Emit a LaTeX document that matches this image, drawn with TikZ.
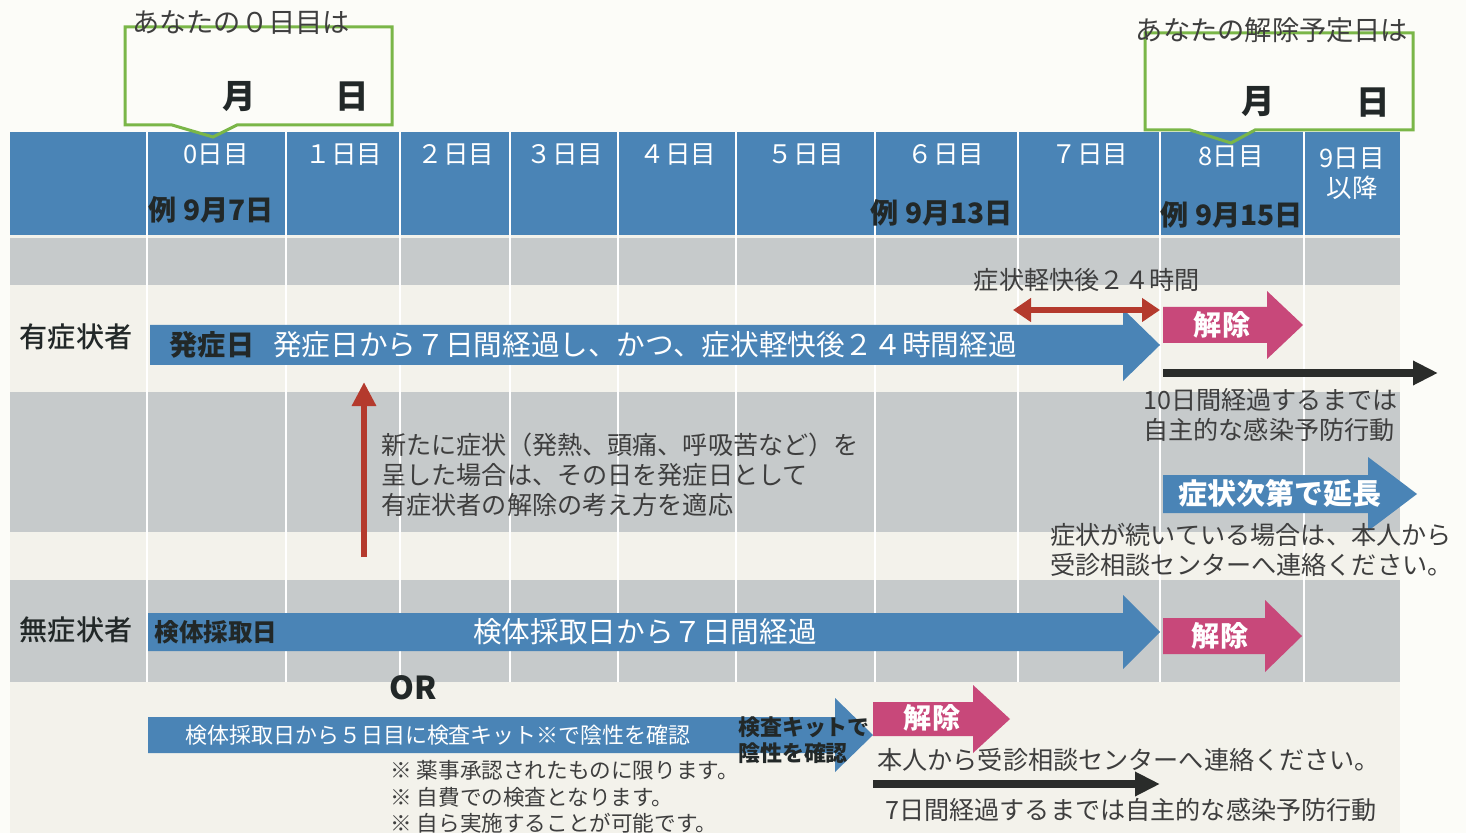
\documentclass[tikz,border=0pt]{standalone}
\usepackage{fontspec}
\setmainfont{Noto Sans CJK JP}
\newfontfamily\medfont{Noto Sans CJK JP Medium}
\usepackage{tikz}
\usetikzlibrary{arrows.meta}

\definecolor{page}{RGB}{252,252,248}
\definecolor{cream}{RGB}{243,242,235}
\definecolor{cellgray}{RGB}{198,202,203}
\definecolor{hblue}{RGB}{74,132,182}
\definecolor{hpink}{RGB}{200,72,122}
\definecolor{redarr}{RGB}{180,58,45}
\definecolor{blkarr}{RGB}{42,44,42}
\definecolor{cgreen}{RGB}{122,182,72}
\definecolor{txtdark}{RGB}{34,40,40}
\definecolor{txtgray}{RGB}{62,62,62}

% block arrow: colour, x start, x head, x tip, y centre, half body, half head
\newcommand{\barrow}[7]{%
  \fill[#1] (#2,{#5-#6}) -- (#3,{#5-#6}) -- (#3,{#5-#7}) -- (#4,#5)
    -- (#3,{#5+#7}) -- (#3,{#5+#6}) -- (#2,{#5+#6}) -- cycle;}

\begin{document}
\begin{tikzpicture}[x=0.2mm, y=-0.2mm]
        \tikzstyle{hdr}=[text=white, font=\fontsize{14.5}{17}\selectfont];
        \tikzstyle{ex}=[text=txtdark, font=\bfseries\fontsize{16}{19}\selectfont];
        \tikzstyle{callout}=[draw=cgreen, line width=0.6mm];
        \tikzstyle{ask}=[text=txtgray, font=\fontsize{15.5}{18}\selectfont];
        \tikzstyle{md}=[text=txtdark, font=\bfseries\fontsize{19}{22}\selectfont];
        \tikzstyle{rowlbl}=[text=txtdark, font=\medfont\fontsize{16}{19}\selectfont];
        \tikzstyle{inbar}=[text=white, font=\fontsize{16.3}{19}\selectfont];
        \tikzstyle{inbarb}=[text=txtdark, font=\bfseries\fontsize{16}{19}\selectfont];
        \tikzstyle{rel}=[text=white, font=\bfseries\fontsize{16}{19}\selectfont];
        \tikzstyle{note}=[text=txtgray, font=\fontsize{14.3}{17.1}\selectfont, align=left, anchor=west, inner sep=0pt];
        \tikzstyle{small}=[text=txtgray, font=\fontsize{12.3}{15}\selectfont, align=left, anchor=west, inner sep=0pt];
        \tikzstyle{gridline}=[draw=white, line width=0.4mm];
        \tikzstyle{redline}=[draw=redarr, line width=1.2mm];
        \tikzstyle{blackline}=[draw=blkarr, line width=1.5mm, -{Triangle[length=5mm,width=4.6mm]}];

        \useasboundingbox (0,0) rectangle (1466,833);
        \fill[page] (0,0) rectangle (1466,833);

        % table
        \fill[cream] (10,132) rectangle (1400,833);
        \fill[cellgray] (10,238) rectangle (1400,285);
        \fill[cellgray] (10,392) rectangle (1400,532);
        \fill[cellgray] (10,580) rectangle (1400,682);
        \fill[hblue] (10,132) rectangle (1400,235);
        \path[gridline]
        (147,132) -- (147,682) (286,132) -- (286,682)
        (400,132) -- (400,682) (510,132) -- (510,682)
        (618,132) -- (618,682) (736,132) -- (736,682)
        (875,132) -- (875,682) (1018,132) -- (1018,682)
        (1160,132) -- (1160,682) (1304,132) -- (1304,682);

        \node[hdr] (d0) at (216,155) {0日目};
        \node[hdr] (d1) at (344,155) {１日目};
        \node[hdr] (d2) at (456,155) {２日目};
        \node[hdr] (d3) at (565,155) {３日目};
        \node[hdr] (d4) at (678,155) {４日目};
        \node[hdr] (d5) at (806,155) {５日目};
        \node[hdr] (d6) at (946,155) {６日目};
        \node[hdr] (d7) at (1090,155) {７日目};
        \node[hdr] (d8) at (1231,157) {8日目};
        \node[hdr, align=center] (d9) at (1352,174) {9日目\\以降};

        \node[ex] (ex0) at (211,210) {例 9月7日};
        \node[ex] (ex6) at (942,213) {例 9月13日};
        \node[ex] (ex8) at (1232,215) {例 9月15日};

        % callouts
        \draw[callout] (125,27) -- (392,27) -- (392,125) -- (237,125) -- (213,137)
        -- (172,125) -- (125,125) -- cycle;
        \draw[callout] (1145,33) -- (1413,33) -- (1413,130) -- (1255,130) -- (1231,143)
        -- (1190,130) -- (1145,130) -- cycle;
        \node[ask] (ask0) at (241,23) {あなたの０日目は};
        \node[ask] (askend) at (1272,30) {あなたの解除予定日は};
        \node[md] (m0) at (239,97) {月};
        \node[md] (n0) at (352,97) {日};
        \node[md] (m8) at (1258,102) {月};
        \node[md] (n8) at (1373,103) {日};

        % with symptoms
        \node[rowlbl] (sym) at (76,337) {有症状者};
        \barrow{hblue}{150}{1123}{1160}{345}{20}{36}
        \node[inbarb] (onset) at (212,345) {発症日};
        \node[inbar] (onsettxt) at (645,345) {発症日から７日間経過し、かつ、症状軽快後２４時間経過};

        \coordinate (h24a) at (1013,310);
        \coordinate (h24b) at (1160,310);
        \draw[redline, {Triangle[length=3.6mm,width=4.6mm]}-{Triangle[length=3.6mm,width=4.6mm]}] (h24a) -- (h24b);
        \node[text=txtgray, font=\fontsize{14.3}{17}\selectfont] (h24) at (1087,280) {症状軽快後２４時間};

        \barrow{hpink}{1163}{1267}{1303}{325}{18}{34}
        \node[rel] (rel1) at (1222,325) {解除};

        \coordinate (ten0) at (1163,373);
        \coordinate (ten1) at (1438,373);
        \draw[blackline] (ten0) -- (ten1);
        \node[note] (tentxt) at (1143,415) {10日間経過するまでは\\自主的な感染予防行動};

        \coordinate (newsym) at (364,557);
        \coordinate (newsymtop) at (364,382);
        \draw[redline, -{Triangle[length=4.8mm,width=4.6mm]}] (newsym) -- (newsymtop);
        \node[note] (newtxt) at (381,475) {新たに症状（発熱、頭痛、呼吸苦など）を\\呈した場合は、その日を発症日として\\有症状者の解除の考え方を適応};

        \barrow{hblue}{1163}{1368}{1417}{494}{19}{37}
        \node[rel, font=\bfseries\fontsize{16.5}{19}\selectfont] (ext) at (1280,493) {症状次第で延長};
        \node[note] (exttxt) at (1050,550) {症状が続いている場合は、本人から\\受診相談センターへ連絡ください。};

        % without symptoms
        \node[rowlbl] (asym) at (76,630) {無症状者};
        \barrow{hblue}{148}{1123}{1160}{632}{19}{37}
        \node[inbarb, font=\bfseries\fontsize{14}{17}\selectfont] (smp) at (216,632) {検体採取日};
        \node[inbar] (smptxt) at (645,632) {検体採取日から７日間経過};
        \barrow{hpink}{1163}{1265}{1302}{636}{18}{36}
        \node[rel] (rel2) at (1220,636) {解除};

        \node[text=txtdark, font=\bfseries\fontsize{18}{21}\selectfont] (or) at (413,688) {OR};

        \barrow{hblue}{148}{835}{873}{735}{18}{37}
        \node[inbar, font=\fontsize{12.5}{15}\selectfont] (kittxt) at (438,735) {検体採取日から５日目に検査キット※で陰性を確認};
        \node[inbarb, font=\bfseries\fontsize{12.5}{14.5}\selectfont, align=left] (neg) at (804,740) {検査キットで\\陰性を確認};
        \barrow{hpink}{873}{973}{1010}{719}{17}{34}
        \node[rel] (rel3) at (932,718) {解除};

        \node[note] (calltxt) at (877,760) {本人から受診相談センターへ連絡ください。};
        \coordinate (sev0) at (873,784);
        \coordinate (sev1) at (1160,784);
        \draw[blackline] (sev0) -- (sev1);
        \node[note] (sevtxt) at (885,810) {7日間経過するまでは自主的な感染予防行動};

        \node[small, font=\fontsize{12.3}{15.1}\selectfont] (kitnote) at (390,797) {※ 薬事承認されたものに限ります。\\※ 自費での検査となります。\\※ 自ら実施することが可能です。};
      \end{tikzpicture}
\end{document}
